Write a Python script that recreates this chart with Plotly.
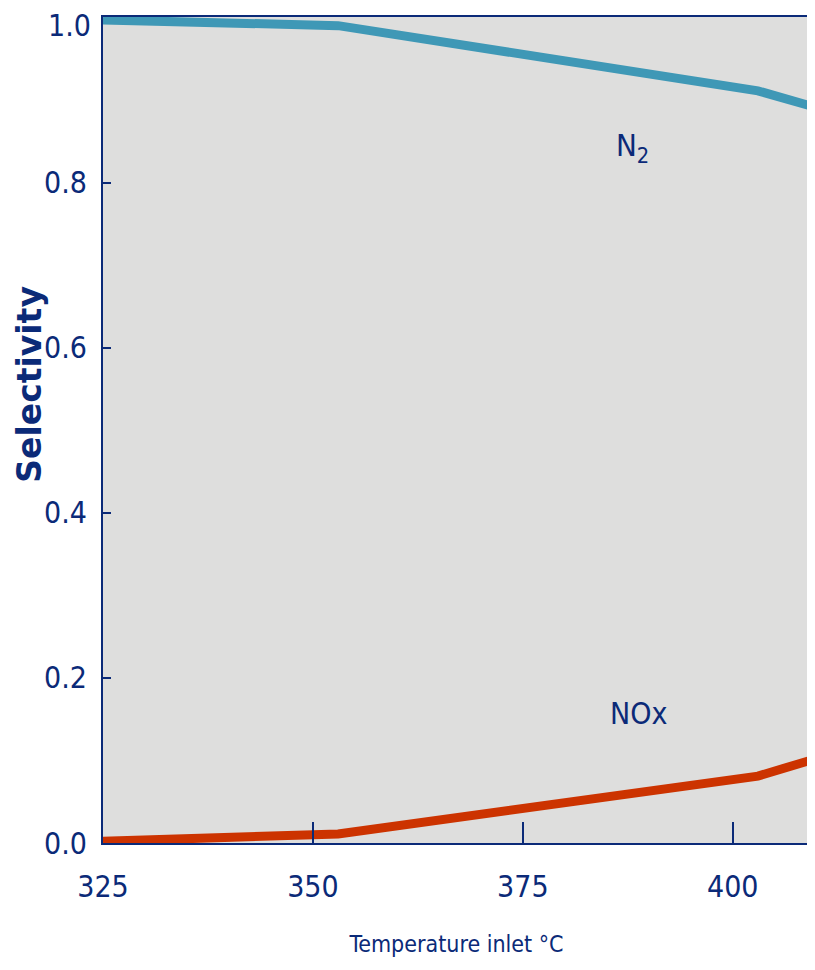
import plotly.graph_objects as go

temperature = [325, 353, 403, 409.2]
n2_selectivity = [0.997, 0.990, 0.911, 0.893]
nox_selectivity = [0.002, 0.011, 0.081, 0.100]

x_ticks = [325, 350, 375, 400]
y_ticks = [0.0, 0.2, 0.4, 0.6, 0.8, 1.0]
y_tick_labels = ["0.0", "0.2", "0.4", "0.6", "0.8", "1.0"]

NAVY = "#0b2a78"
FONT = "Liberation Sans Narrow, DejaVu Sans Condensed, Liberation Sans, Arial, sans-serif"

fig = go.Figure()
fig.add_trace(go.Scatter(x=temperature, y=n2_selectivity, mode="lines",
                         line=dict(color="#3f98b6", width=9), name="N2"))
fig.add_trace(go.Scatter(x=temperature, y=nox_selectivity, mode="lines",
                         line=dict(color="#cc3300", width=9), name="NOx"))

fig.add_annotation(x=388.1, y=0.842, text="N<sub>2</sub>", showarrow=False,
                   font=dict(family=FONT, size=31, color=NAVY))
fig.add_annotation(x=388.8, y=0.157, text="NOx", showarrow=False,
                   font=dict(family=FONT, size=30, color=NAVY))
# top tick label drawn as an annotation, nudged down so it stays inside the page
fig.add_annotation(x=0, xref="paper", y=y_ticks[-1], yref="y",
                   text=y_tick_labels[-1], showarrow=False,
                   xanchor="right", yanchor="middle", xshift=-10, yshift=-8,
                   font=dict(family=FONT, size=30, color=NAVY))
fig.add_annotation(x=-0.1033, y=0.556, xref="paper", yref="paper",
                   text="<b>Selectivity</b>", textangle=-90, showarrow=False,
                   xanchor="center", yanchor="middle",
                   font=dict(family="DejaVu Sans, Arial, sans-serif", size=33, color=NAVY))

fig.update_layout(
    width=815, height=970,
    margin=dict(l=95, r=13, t=9, b=135),
    paper_bgcolor="white",
    plot_bgcolor="#dededd",
    showlegend=False,
    xaxis=dict(
        range=[325, 409.2], tickvals=x_ticks, ticks="inside", ticklen=21,
        tickwidth=1.5, tickcolor=NAVY, showgrid=False, zeroline=False,
        showline=True, linecolor=NAVY, linewidth=2, mirror=True,
        automargin=False, ticklabeloverflow="allow",
        tickfont=dict(family=FONT, size=30, color=NAVY),
        ticklabelstandoff=16,
        title=dict(text="Temperature inlet °C", standoff=33,
                   font=dict(family=FONT, size=23, color=NAVY)),
    ),
    yaxis=dict(
        range=[0, 1.0005], tickvals=y_ticks[:-1], ticktext=y_tick_labels[:-1],
        ticks="inside", ticklen=8, tickwidth=1.5, tickcolor=NAVY,
        showgrid=False, zeroline=False,
        showline=True, linecolor=NAVY, linewidth=2, mirror=True,
        automargin=False, ticklabeloverflow="allow",
        tickfont=dict(family=FONT, size=30, color=NAVY),
        ticklabelstandoff=8,
    ),
)

fig.write_html("out.html")
